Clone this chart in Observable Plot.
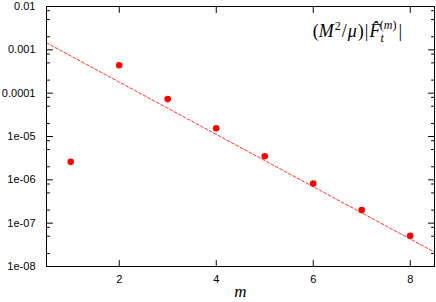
<!DOCTYPE html>
<html>
<head>
<meta charset="utf-8">
<script src="https://cdn.jsdelivr.net/npm/d3@7"></script>
<script src="https://cdn.jsdelivr.net/npm/@observablehq/plot@0.6"></script>
<style>
  html, body { margin: 0; padding: 0; background: #fff; }
  #chart { width: 436px; height: 302px; }
</style>
</head>
<body>
<div id="chart"></div>
<script>
// Data
const mValues = [1, 2, 3, 4, 5, 6, 7, 8];
const fValues = [2.6e-6, 4.4e-4, 7.3e-5, 1.55e-5, 3.5e-6, 8.2e-7, 2.0e-7, 5.1e-8];
// dashed fit line end points
const fitM = [0.5, 8.5];
const fitV = [1.45e-3, 2.15e-8];
// axis ticks
const xTicks = [2, 4, 6, 8];
const yTicks = [1e-2, 1e-3, 1e-4, 1e-5, 1e-6, 1e-7, 1e-8];
const yTickLabels = ["0.01", "0.001", "0.0001", "1e-05", "1e-06", "1e-07", "1e-08"];
const minorMult = [2, 5, 8];

const points = mValues.map((m, i) => ({m, v: fValues[i]}));
const fit = fitM.map((m, i) => ({m, v: fitV[i]}));
const yMinor = yTicks.slice(1).flatMap(t => minorMult.map(k => k * t));

const lineShape = {draw(ctx, l) { ctx.moveTo(0, 0); ctx.lineTo(0, -l); }};
const tickStyle = {stroke: "#000", strokeWidth: 1, shape: lineShape, anchor: "start"};

const chart = Plot.plot({
  width: 436,
  height: 302,
  marginLeft: 46,
  marginRight: 2,
  marginTop: 6,
  marginBottom: 36,
  style: {fontFamily: "'Liberation Sans', Arial, sans-serif", fontSize: "11px", color: "#000", background: "#fff"},
  x: {domain: [0.5, 8.5]},
  y: {type: "log", domain: [1e-8, 1e-2]},
  marks: [
    Plot.line(fit, {x: "m", y: "v", stroke: "#ff0000", strokeWidth: 0.8, strokeDasharray: "3,2"}),
    Plot.dot(points, {x: "m", y: "v", r: 3.3, fill: "#ff0000", stroke: "none"}),
    // inward ticks
    Plot.vector(yTicks, {y: d => d, frameAnchor: "left", rotate: 90, length: 6, ...tickStyle}),
    Plot.vector(yTicks, {y: d => d, frameAnchor: "right", rotate: -90, length: 6, ...tickStyle}),
    Plot.vector(yMinor, {y: d => d, frameAnchor: "left", rotate: 90, length: 3, ...tickStyle}),
    Plot.vector(yMinor, {y: d => d, frameAnchor: "right", rotate: -90, length: 3, ...tickStyle}),
    Plot.vector(xTicks, {x: d => d, frameAnchor: "bottom", rotate: 0, length: 6, ...tickStyle}),
    Plot.vector(xTicks, {x: d => d, frameAnchor: "top", rotate: 180, length: 6, ...tickStyle}),
    Plot.axisY({ticks: yTicks, tickSize: 0, tickPadding: 11, tickFormat: d => yTickLabels[yTicks.indexOf(d)], label: null}),
    Plot.axisX({ticks: xTicks, tickSize: 0, tickPadding: 9, label: null}),
    Plot.frame({stroke: "#000", strokeWidth: 1}),
    Plot.text(["m"], {frameAnchor: "bottom", dy: 30, text: d => d, fontFamily: "'Liberation Serif', 'DejaVu Serif', serif", fontStyle: "italic", fontSize: 17, fill: "#000"})
  ]
});
document.getElementById("chart").appendChild(chart);

// Formula label in the top-right corner
const ns = "http://www.w3.org/2000/svg";
const t = document.createElementNS(ns, "text");
t.setAttribute("x", 402);
t.setAttribute("y", 37);
t.setAttribute("text-anchor", "end");
t.setAttribute("font-family", "'Liberation Serif', 'DejaVu Serif', serif");
t.setAttribute("font-size", 18);
t.setAttribute("fill", "#000");
const parts = [
  {s: "(", st: "normal"},
  {s: "M", st: "italic"},
  {s: "2", st: "normal", dy: -7, fs: 12, dx: 1},
  {s: "/", st: "normal", dy: 7, dx: 1},
  {s: "μ", st: "italic", dx: 1},
  {s: ")", st: "normal", dx: 1},
  {s: "|", st: "normal", dx: 1},
  {s: "F\u0302", st: "italic", dx: 1},
  {s: "t", st: "italic", dy: 5, fs: 12},
  {s: "(", st: "normal", dy: -13, fs: 12, dx: -4},
  {s: "m", st: "italic", fs: 12},
  {s: ")", st: "normal", fs: 12},
  {s: "|", st: "normal", dy: 8, dx: 2}
];
for (const p of parts) {
  const ts = document.createElementNS(ns, "tspan");
  ts.textContent = p.s;
  ts.setAttribute("font-style", p.st);
  if (p.dy) ts.setAttribute("dy", p.dy);
  if (p.dx) ts.setAttribute("dx", p.dx);
  if (p.fs) ts.setAttribute("font-size", p.fs);
  t.appendChild(ts);
}
chart.appendChild(t);
</script>
</body>
</html>
